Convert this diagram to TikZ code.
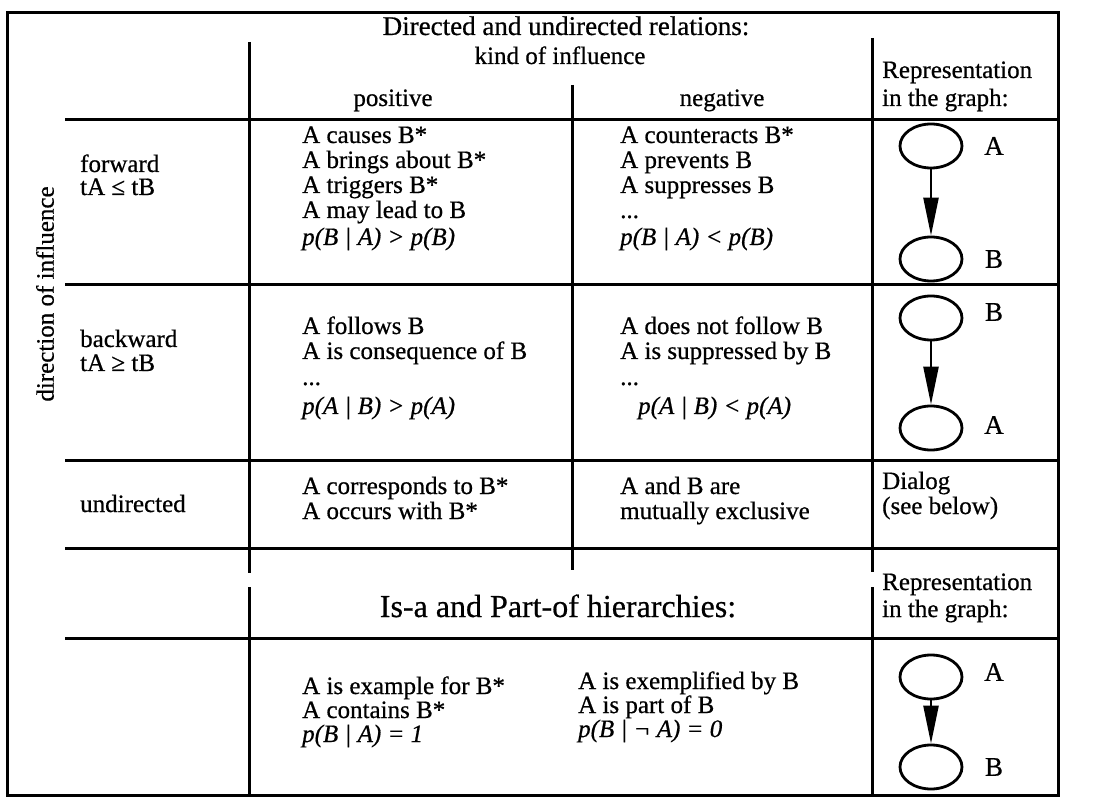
\documentclass[tikz,border=0pt]{standalone}
\usepackage{fontspec}
\setmainfont{Liberation Serif}[FakeBold=0.6]
\usetikzlibrary{shapes.geometric,arrows.meta}
\newcommand{\bodyfont}{\fontsize{25}{26}\selectfont}
\newcommand{\bigfont}{\fontsize{27}{30}\selectfont}
\newcommand{\isafont}{\fontsize{32}{34}\selectfont}
\begin{document}
\begin{tikzpicture}[x=1pt,y=-1pt,
  rule/.style={line width=3pt},
  txt/.style={anchor=base west,inner sep=0pt,font=\bodyfont},
  ctxt/.style={anchor=base,inner sep=0pt,font=\bodyfont},
  ttl/.style={anchor=base,inner sep=0pt,font=\bigfont},
  ell/.style={draw,ellipse,line width=2.8pt,minimum width=62pt,minimum height=44pt,inner sep=0pt},
  lab/.style={anchor=center,inner sep=0pt,font=\fontsize{27}{27}\selectfont},
  arr/.style={line width=2.4pt,-{Triangle[length=38pt,width=15pt]}}
]
\useasboundingbox (0,0) rectangle (1098,799);
% frame and rules
\draw[rule] (7,13) rectangle (1058,795);
\draw[rule] (249,42) -- (249,573);
\draw[rule] (249,587) -- (249,795);
\draw[rule] (572,85) -- (572,570);
\draw[rule] (872,38) -- (872,572);
\draw[rule] (872,587) -- (872,795);
\foreach \yy in {120,285,460,548,638} \draw[rule] (65,\yy) -- (1058,\yy);
% header
\node[ttl] (title) at (566,35) {Directed and undirected relations:};
\node[ctxt] (kind) at (560,64) {kind of influence};
\node[ctxt] (pos) at (393,106) {positive};
\node[ctxt] (neg) at (722,106) {negative};
\node[txt] (rep1) at (882,78) {Representation};
\node[txt] (rep2) at (882,106) {in the graph:};
% left labels
\node[anchor=center,inner sep=0pt,font=\bodyfont,rotate=90] (dir) at (45,294) {direction of influence};
\node[txt] (fw1) at (80,172) {forward};
\node[txt] (fw2) at (80,195) {tA ≤ tB};
\node[txt] (bw1) at (80,347) {backward};
\node[txt] (bw2) at (80,371) {tA ≥ tB};
\node[txt] (und) at (80,512) {undirected};
% forward row
\node[txt] (fp1) at (302,143) {A causes B*};
\node[txt] (fp2) at (302,168) {A brings about B*};
\node[txt] (fp3) at (302,193) {A triggers B*};
\node[txt] (fp4) at (302,218) {A may lead to B};
\node[txt] (fp5) at (302,245) {\itshape p(B | A) > p(B)};
\node[txt] (fn1) at (620,143) {A counteracts B*};
\node[txt] (fn2) at (620,168) {A prevents B};
\node[txt] (fn3) at (620,193) {A suppresses B};
\node[txt] (fn4) at (620,218) {...};
\node[txt] (fn5) at (620,245) {\itshape p(B | A) < p(B)};
% backward row
\node[txt] (bp1) at (302,334) {A follows B};
\node[txt] (bp2) at (302,359) {A is consequence of B};
\node[txt] (bp3) at (302,385) {...};
\node[txt] (bp4) at (302,414) {\itshape p(A | B) > p(A)};
\node[txt] (bn1) at (620,334) {A does not follow B};
\node[txt] (bn2) at (620,359) {A is suppressed by B};
\node[txt] (bn3) at (620,385) {...};
\node[txt] (bn4) at (638,414) {\itshape p(A | B) < p(A)};
% undirected row
\node[txt] (up1) at (302,494) {A corresponds to B*};
\node[txt] (up2) at (302,519) {A occurs with B*};
\node[txt] (un1) at (620,494) {A and B are};
\node[txt] (un2) at (620,519) {mutually exclusive};
\node[txt] (dl1) at (882,489) {Dialog};
\node[txt] (dl2) at (882,514) {(see below)};
% hierarchy part
\node[anchor=base,inner sep=0pt,font=\isafont] (isa) at (558,617) {Is-a and Part-of hierarchies:};
\node[txt] (rep3) at (882,590) {Representation};
\node[txt] (rep4) at (882,617) {in the graph:};
\node[txt] (hp1) at (302,694) {A is example for B*};
\node[txt] (hp2) at (302,718) {A contains B*};
\node[txt] (hp3) at (302,742) {\itshape p(B | A) = 1};
\node[txt] (hn1) at (578,689) {A is exemplified by B};
\node[txt] (hn2) at (578,713) {A is part of B};
\node[txt] (hn3) at (578,737) {\itshape p(B | ¬ A) = 0};
% graph representations
\node[ell] (fA) at (931,146) {};
\node[ell] (fB) at (931,259) {};
\node[lab] (fAl) at (994,146) {A};
\node[lab] (fBl) at (994,259) {B};
\draw[arr] (fA) -- (fB);
\node[ell] (bB) at (931,318) {};
\node[ell] (bA) at (931,428) {};
\node[lab] (bBl) at (994,312) {B};
\node[lab] (bAl) at (994,425) {A};
\draw[arr] (bB) -- (bA);
\node[ell] (hA) at (931,677) {};
\node[ell] (hB) at (931,767) {};
\node[lab] (hAl) at (994,672) {A};
\node[lab] (hBl) at (994,767) {B};
\draw[arr] (hA) -- (hB);
\end{tikzpicture}
\end{document}
